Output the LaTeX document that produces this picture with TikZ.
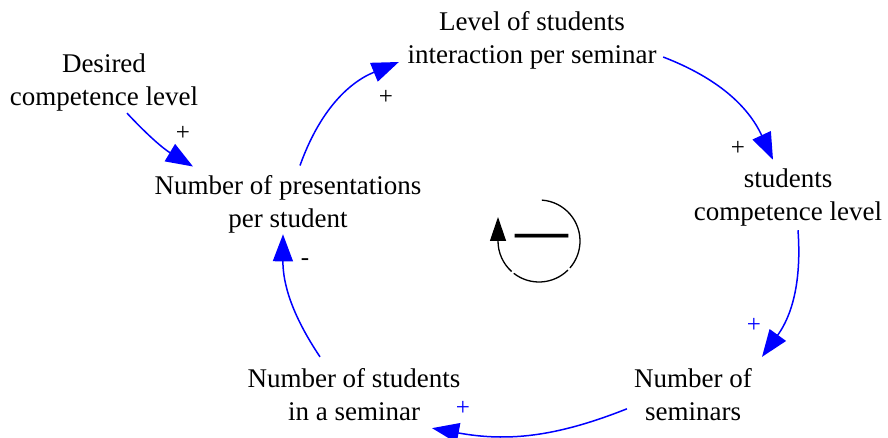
\documentclass[tikz,border=0pt]{standalone}
\usepackage{fontspec}
\setmainfont{Liberation Serif}
\newfontfamily\timesfont{Liberation Serif}
\usetikzlibrary{arrows.meta,calc}
\definecolor{AzulLazo}{RGB}{0,0,255}

\begin{document}
\begin{tikzpicture}[x=1pt,y=1pt,>={Triangle[length=27pt,width=20pt]},
  var/.style={align=center,inner sep=1pt,font=\timesfont\fontsize{27}{33}\selectfont},
  link/.style={->,AzulLazo,line width=1.5pt},
  signo/.style={inner sep=0pt,font=\timesfont\fontsize{25}{25}\selectfont}]
  \useasboundingbox (0,0) rectangle (888,-438);
  % variables of the loop
  \node[var] (desired) at (104,-82.2) {Desired\\competence level};
  \node[var] (presents) at (288,-204.2) {Number of presentations\\per student};
  \node[var] (level) at (532,-40.3) {Level of students\\interaction per seminar};
  \node[var] (compet) at (788,-197.3) {students\\competence level};
  \node[var] (seminars) at (693,-394.8) {Number of\\seminars};
  \node[var] (students) at (354,-394.8) {Number of students\\in a seminar};
  % causal links
  \draw[link] ($(desired.south)+(23,-1)$) to[bend right=8] ($(presents.north)+(-95,7.6)$);
  \draw[link] ($(presents.north)+(12,8.6)$) to[bend left=24] ($(level.west)+(-7.5,-21.7)$);
  \draw[link] ($(level.east)+(5.5,-16.7)$) to[bend left=22] ($(compet.north)+(-15,7.6)$);
  \draw[link] ($(compet.south)+(10,-3)$) to[bend left=20] ($(seminars.north)+(69,10.6)$);
  \draw[link] ($(seminars.west)+(-6,-14)$) to[bend left=16] ($(students.south)+(78,-6)$);
  \draw[link] ($(students.north)+(-34,10.6)$) to[bend left=17] ($(presents.south)+(-5,0)$);
  % polarities
  \node[signo] (s1) at (183,-133) {+};
  \node[signo] (s2) at (386,-97) {+};
  \node[signo] (s3) at (738,-148) {+};
  \node[signo,AzulLazo] (s4) at (754,-325) {+};
  \node[signo,AzulLazo] (s5) at (463,-408) {+};
  \node[signo] (s6) at (305,-262) {-};
  % loop symbol
  \coordinate (loop) at (539,-241);
  \draw[line width=1.3pt] ($(loop)+(86:41)$) arc[start angle=86,end angle=-41,radius=41];
  \draw[line width=1.3pt] ($(loop)+(-45:41)$) arc[start angle=-45,end angle=-128,radius=41];
  \draw[line width=1.3pt,-{Triangle[length=24pt,width=16pt]}] ($(loop)+(-132:41)$)
    arc[start angle=-132,end angle=-180,radius=41] -- ++(0,24);
  \node[inner sep=0pt,font=\timesfont\bfseries\fontsize{53}{53}\selectfont] (sign) at (541.5,-241) {—};
\end{tikzpicture}
\end{document}
